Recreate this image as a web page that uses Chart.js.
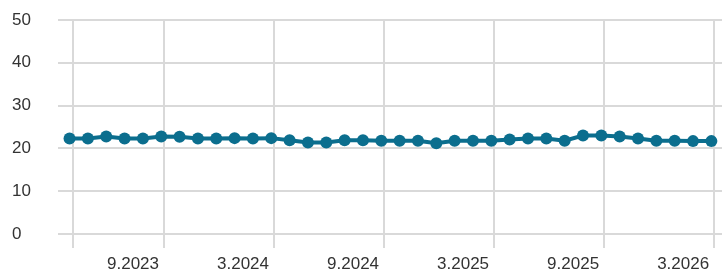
<!DOCTYPE html>
<html>
<head>
<meta charset="utf-8">
<script src="https://cdn.jsdelivr.net/npm/chart.js@4/dist/chart.umd.min.js"></script>
<style>
  html, body { margin: 0; padding: 0; background: #fff; }
  #wrap { width: 722px; height: 274px; }
</style>
</head>
<body>
<div id="wrap"><canvas id="myChart" width="722" height="274"></canvas></div>
<script>
"use strict";

// monthly values, 6.2023 .. 5.2026
const months = [
  "6.2023", "7.2023", "8.2023", "9.2023", "10.2023", "11.2023",
  "12.2023", "1.2024", "2.2024", "3.2024", "4.2024", "5.2024",
  "6.2024", "7.2024", "8.2024", "9.2024", "10.2024", "11.2024",
  "12.2024", "1.2025", "2.2025", "3.2025", "4.2025", "5.2025",
  "6.2025", "7.2025", "8.2025", "9.2025", "10.2025", "11.2025",
  "12.2025", "1.2026", "2.2026", "3.2026", "4.2026", "5.2026"
];
const values = [
  22.3, 22.3, 22.8, 22.3, 22.3, 22.8,
  22.7, 22.3, 22.3, 22.4, 22.3, 22.4,
  21.9, 21.4, 21.4, 21.9, 21.9, 21.8,
  21.8, 21.8, 21.2, 21.8, 21.8, 21.8,
  22.1, 22.3, 22.3, 21.8, 23.0, 23.0,
  22.8, 22.3, 21.8, 21.8, 21.7, 21.7
];
const xTickLabels = ["9.2023", "3.2024", "9.2024", "3.2025", "9.2025", "3.2026"];
const yTicks = [0, 10, 20, 30, 40, 50];

// month index where gridlines / labels sit
const gridMonths = [0, 5, 11, 17, 23, 29, 35];
const gridShift = 0.17;
const labelShift = 0.46;

let points = [];
for (let i = 0; i < values.length; i++) {
  points.push({ x: i, y: values[i] });
}

let gridPos = gridMonths.map(m => m + gridShift);
let labelPos = xTickLabels.map(l => months.indexOf(l) + labelShift);

function isLabelTick(v) {
  return labelPos.some(p => Math.abs(p - v) < 0.001);
}

const axisFont = { family: "'Liberation Sans Narrow', 'Liberation Sans', sans-serif", size: 17 };
const gridColor = "#d9d9d9";
const lineColor = "#0b6e8e";

const config = {
  type: "line",
  data: {
    datasets: [{
      data: points,
      borderColor: lineColor,
      backgroundColor: lineColor,
      borderWidth: 4,
      pointRadius: 6,
      pointBorderWidth: 0,
      pointBackgroundColor: lineColor,
      tension: 0
    }]
  },
  options: {
    responsive: false,
    animation: false,
    layout: { autoPadding: false, padding: { left: 12, top: 20, right: 0, bottom: 0 } },
    plugins: { legend: { display: false }, tooltip: { enabled: false } },
    scales: {
      x: {
        type: "linear",
        min: -0.63,
        max: 35.58,
        border: { display: false },
        afterBuildTicks: (scale) => {
          let all = gridPos.concat(labelPos).sort((a, b) => a - b);
          scale.ticks = all.map(v => ({ value: v }));
        },
        afterFit: (scale) => {
          scale.height = 40;
          scale.paddingLeft = 0;
          scale.paddingRight = 0;
        },
        grid: {
          color: (ctx) => (ctx.tick && isLabelTick(ctx.tick.value)) ? "rgba(0,0,0,0)" : gridColor,
          lineWidth: 2,
          tickLength: 14
        },
        ticks: {
          autoSkip: false,
          maxRotation: 0,
          padding: 6,
          color: "#333333",
          font: axisFont,
          callback: (v) => {
            let k = labelPos.findIndex(p => Math.abs(p - v) < 0.001);
            return k >= 0 ? xTickLabels[k] : "";
          }
        }
      },
      y: {
        min: 0,
        max: 50,
        border: { display: false },
        afterBuildTicks: (scale) => {
          scale.ticks = yTicks.map(v => ({ value: v }));
        },
        afterFit: (scale) => { scale.width = 46; },
        grid: { color: gridColor, lineWidth: 2, drawTicks: false },
        ticks: {
          crossAlign: "far",
          padding: 0,
          color: "#333333",
          font: axisFont
        }
      }
    }
  }
};

new Chart(document.getElementById("myChart"), config);
</script>
</body>
</html>
